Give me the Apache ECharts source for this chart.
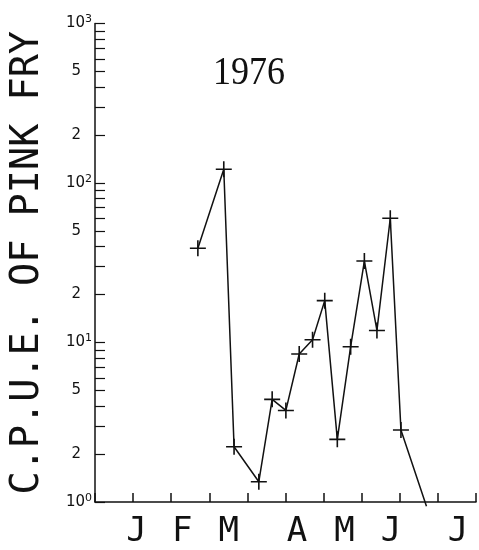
<!DOCTYPE html>
<html>
<head>
<meta charset="utf-8">
<script src="https://cdn.jsdelivr.net/npm/echarts@6/dist/echarts.min.js"></script>
<style>
html,body{margin:0;padding:0;background:#fff;}
#chart{width:479px;height:550px;}
</style>
</head>
<body>
<div id="chart"></div>
<script>
// Time position (axis units, 10 tick intervals across the axis) and C.P.U.E. values
var timePos = [2.70, 3.38, 3.65, 4.30, 4.65, 5.01, 5.36, 5.71, 6.03, 6.36, 6.71, 7.07, 7.40, 7.75, 8.03, 8.70];
var cpue    = [39.0, 122, 2.22, 1.34, 4.40, 3.75, 8.47, 10.4, 18.3, 2.47, 9.41, 32.4, 11.9, 60.1, 2.83, 0.94];

// Month labels and their positions on the time axis
var monthLabels = ['J', 'F', 'M', 'A', 'M', 'J', 'J'];
var monthPos    = [1.09, 2.29, 3.51, 5.30, 6.55, 7.77, 9.53];

// Y axis ticks and labels
var yTickValues  = [1,2,3,4,5,6,7,8,9,10,20,30,40,50,60,70,80,90,100,200,300,400,500,600,700,800,900,1000];
var yLabelValues = [1,2,5,10,20,50,100,200,500,1000];

var yTitle = 'C.P.U.E. OF PINK FRY';
var chartTitle = '1976';

var data = timePos.map(function (t, i) {
  var item = {value: [t, cpue[i]]};
  if (cpue[i] < 1) item.symbol = 'none';
  return item;
});

var chart = echarts.init(document.getElementById('chart'), null, {renderer: 'canvas'});
var ink = '#111';
chart.setOption({
  backgroundColor: '#fff',
  animation: false,
  grid: {left: 91, right: 3, top: 23.5, bottom: 48, containLabel: false},
  graphic: [{
    type: 'text',
    x: 249, y: 73,
    scaleX: 0.9,
    style: {
      text: chartTitle,
      fontFamily: 'Liberation Serif',
      fontSize: 40,
      fill: ink,
      align: 'center',
      verticalAlign: 'middle'
    }
  }],
  xAxis: {
    type: 'value', min: 0, max: 10, interval: 1,
    axisLine: {show: true, lineStyle: {color: ink, width: 1.5}},
    axisTick: {show: true, inside: true, length: 9, lineStyle: {color: ink, width: 1.5}},
    splitLine: {show: false},
    axisLabel: {
      customValues: monthPos,
      formatter: function (v) {
        var i = monthPos.indexOf(v);
        return i >= 0 ? monthLabels[i] : '';
      },
      fontFamily: 'DejaVu Sans Mono',
      fontSize: 34,
      color: ink,
      margin: 13
    }
  },
  yAxis: {
    type: 'log', logBase: 10, min: 1, max: 1000,
    name: yTitle,
    nameLocation: 'middle',
    nameRotate: 90,
    nameGap: 48,
    nameTextStyle: {fontFamily: 'DejaVu Sans Mono', fontSize: 38.5, color: ink},
    axisLine: {show: true, lineStyle: {color: ink, width: 1.5}},
    axisTick: {show: true, inside: true, length: 10, customValues: yTickValues, lineStyle: {color: ink, width: 1.2}},
    splitLine: {show: false},
    minorTick: {show: false},
    axisLabel: {
      customValues: yLabelValues,
      formatter: function (v) {
        var e = Math.floor(Math.log10(v) + 1e-9);
        var m = Math.round(v / Math.pow(10, e));
        if (m === 1) return '10{sup|' + e + '}';
        return '{d|' + m + '}';
      },
      fontFamily: 'DejaVu Sans',
      fontSize: 15,
      color: ink,
      margin: 3,
      rich: {
        sup: {fontSize: 11, verticalAlign: 'bottom', padding: [0, 0, 8, 0], fontFamily: 'DejaVu Sans', color: ink},
        d: {fontSize: 15, fontFamily: 'DejaVu Sans', color: ink, padding: [0, 11, 0, 0]}
      }
    }
  },
  series: [{
    type: 'line',
    data: data,
    lineStyle: {color: ink, width: 1.5},
    symbol: 'path://M0,8 L16,8 M8,0 L8,16',
    symbolSize: 16,
    itemStyle: {color: 'rgba(0,0,0,0)', borderColor: ink, borderWidth: 1.6},
    showSymbol: true,
    clip: false
  }]
});
</script>
</body>
</html>
